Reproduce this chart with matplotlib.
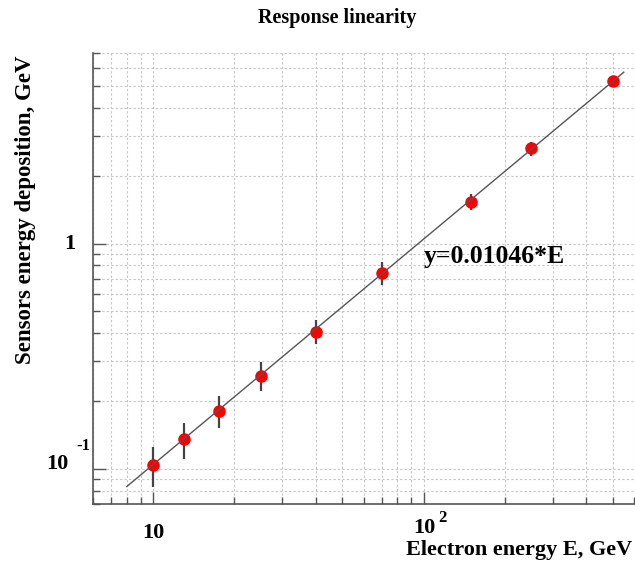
import matplotlib
matplotlib.use("Agg")
import matplotlib.pyplot as plt
from matplotlib.ticker import LogLocator, NullFormatter, FixedLocator
import numpy as np

# electron energy (GeV) and measured deposition (GeV)
energy = [10, 13, 17.5, 25, 40, 70, 150, 250, 500]
deposit = [0.104, 0.1355, 0.1816, 0.259, 0.407, 0.741, 1.531, 2.64, 5.26]
deposit_err = [0.021, 0.025, 0.030, 0.038, 0.050, 0.088, 0.125, 0.19, 0.25]
slope = 0.01046
fit_range = [8, 550]

FONT = "Liberation Serif"
DPI = 100

fig = plt.figure(figsize=(6.35, 5.61), dpi=DPI)
fig.patch.set_facecolor("white")
ax = fig.add_axes([93 / 635, 1 - 504 / 561, (634 - 93) / 635, (504 - 53) / 561])

ax.set_xscale("log")
ax.set_yscale("log")
ax.set_xlim(6, 600)
ax.set_ylim(0.07, 7)

ax.xaxis.set_major_locator(FixedLocator([10, 100]))
ax.yaxis.set_major_locator(FixedLocator([0.1, 1]))
ax.xaxis.set_minor_locator(LogLocator(base=10, subs=np.arange(2, 10)))
ax.yaxis.set_minor_locator(LogLocator(base=10, subs=np.arange(2, 10)))
ax.xaxis.set_major_formatter(NullFormatter())
ax.yaxis.set_major_formatter(NullFormatter())
ax.xaxis.set_minor_formatter(NullFormatter())
ax.yaxis.set_minor_formatter(NullFormatter())

ax.grid(True, which="both", color="#c4c4c4", linestyle=(0, (2, 2)), linewidth=0.8)
ax.tick_params(which="major", direction="in", length=9, width=1, color="#555555")
ax.tick_params(which="minor", direction="in", length=5, width=1, color="#555555")
for side in ["top", "right"]:
    ax.spines[side].set_visible(False)
for side in ["left", "bottom"]:
    ax.spines[side].set_color("#555555")
    ax.spines[side].set_linewidth(1.2)

# fit line
xf = np.array(fit_range, dtype=float)
ax.plot(xf, slope * xf, color="#555555", linewidth=1, zorder=4)

ax.errorbar(energy, deposit, yerr=deposit_err, fmt="o", color="red",
            ecolor="#444444", elinewidth=1.6, markersize=8, capsize=0, zorder=3)

bold = dict(fontfamily=FONT, fontweight="bold")

# tick labels in ROOT style
xt = ax.get_xaxis_transform()
yt = ax.get_yaxis_transform()
ax.annotate("10", xy=(10, 0), xycoords=xt, xytext=(0, -34), textcoords="offset pixels",
            ha="center", va="baseline", fontsize=16, **bold)
ax.annotate("10", xy=(100, 0), xycoords=xt, xytext=(1, -29), textcoords="offset pixels",
            ha="center", va="baseline", fontsize=16, **bold)
ax.annotate("2", xy=(100, 0), xycoords=xt, xytext=(15, -18), textcoords="offset pixels",
            ha="left", va="baseline", fontsize=12, **bold)
ax.annotate("1", xy=(0, 1), xycoords=yt, xytext=(-18, 0), textcoords="offset pixels",
            ha="right", va="center", fontsize=16, **bold)
ax.annotate("10", xy=(0, 0.1), xycoords=yt, xytext=(-25, 0), textcoords="offset pixels",
            ha="right", va="baseline", fontsize=16, **bold)
ax.annotate("-1", xy=(0, 0.1), xycoords=yt, xytext=(-3, 19), textcoords="offset pixels",
            ha="right", va="baseline", fontsize=12, **bold)

ax.text(0.612, 0.548, "y=0.01046*E", transform=ax.transAxes, fontsize=18.5,
        ha="left", va="center", **bold)

fig.text(337 / 635, 1 - 18 / 561, "Response linearity", ha="center", va="center",
         fontsize=14.5, **bold)
fig.text(632 / 635, 1 - 555 / 561, "Electron energy E, GeV", ha="right", va="baseline",
         fontsize=16, **bold)
fig.text(26 / 635, 1 - 55 / 561, "Sensors energy deposition, GeV", ha="center", va="top",
         rotation=90, fontsize=16.5, **bold)

fig.savefig("out.png", dpi=DPI)
